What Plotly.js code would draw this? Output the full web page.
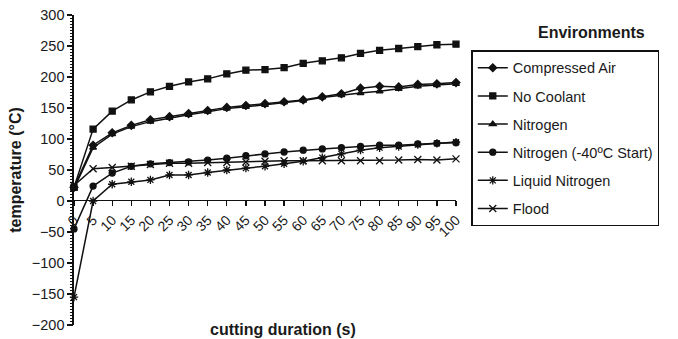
<!DOCTYPE html>
<html>
<head>
<meta charset="utf-8">
<script src="https://cdn.plot.ly/plotly-3.0.1.min.js"></script>
<style>html,body{margin:0;padding:0;background:#fff;}#chart{width:678px;height:339px;}</style>
</head>
<body>
<div id="chart"></div>
<script>
const duration = [0,5,10,15,20,25,30,35,40,45,50,55,60,65,70,75,80,85,90,95,100];
const xTickLabels = ["0","5","10","15","20","25","30","35","40","45","50","55","60","65","70","75","80","85","90","95","100"];
const seriesNames = ["Compressed Air","No Coolant","Nitrogen","Nitrogen (-40ºC Start)","Liquid Nitrogen","Flood"];
const compressedAir = [22, 90, 110, 122, 131, 136, 141, 146, 151, 154, 157, 160, 163, 168, 173, 182, 185, 184, 188, 189, 191];
const noCoolant = [22, 116, 145, 163, 176, 185, 192, 197, 205, 211, 212, 215, 222, 226, 231, 238, 243, 246, 249, 252, 253];
const nitrogen = [20, 86, 108, 120, 128, 134, 139, 144, 149, 152, 155, 159, 162, 167, 171, 174, 177, 181, 185, 187, 189];
const nitrogenMinus40 = [-45, 24, 45, 56, 60, 62, 63, 66, 69, 73, 76, 79, 82, 84, 86, 88, 90, 90, 92, 93, 94];
const liquidNitrogen = [-155, 0, 27, 31, 34, 42, 42, 46, 50, 53, 56, 60, 64, 70, 76, 82, 86, 88, 91, 93, 95];
const flood = [25, 52, 54, 56, 59, 61, 61, 62, 62, 63, 64, 65, 65, 65, 65, 65, 65, 66, 67, 66, 68];

const values = [compressedAir, noCoolant, nitrogen, nitrogenMinus40, liquidNitrogen, flood];
const symbols = ["diamond","square","triangle-up","circle","asterisk-open","x-thin-open"];
const sizes = [6,6,6,6,7,7];

const traces = values.map((v,i)=>({
  x: duration, y: v, name: seriesNames[i], type: 'scatter', mode: 'lines+markers',
  legendgroup: 'g'+i, cliponaxis: false,
  line: {color: '#111', width: 1.5},
  marker: {symbol: symbols[i], size: sizes[i], color: '#111', line: {color: '#111', width: 1.3}}
}));
// invisible carrier trace so the minor-tick axis is drawn
traces.push({x: duration, y: flood, yaxis: 'y2', type: 'scatter', mode: 'lines', opacity: 0, showlegend: false, hoverinfo: 'skip'});

const font = {family: '"Liberation Sans", Arial, sans-serif', color: '#1a1a1a', size: 14};
const layout = {
  width: 678, height: 339,
  margin: {l: 74, r: 222, t: 15, b: 14},
  paper_bgcolor: '#fff', plot_bgcolor: '#fff',
  font: font,
  showlegend: true,
  xaxis: {
    range: [0, 100], anchor: 'free', position: 0.4039,
    tickmode: 'array', tickvals: duration, ticktext: xTickLabels,
    tickangle: -45, ticks: 'outside', ticklen: 5, tickwidth: 1.3, tickcolor: '#111',
    showline: true, linecolor: '#111', linewidth: 1.6, showgrid: false, zeroline: false,
    tickfont: {size: 14}
  },
  yaxis: {
    range: [-200, 300], tickmode: 'linear', tick0: 0, dtick: 50, ticks: 'outside', ticklen: 5, tickwidth: 1.3, tickcolor: '#111',
    showline: true, linecolor: '#111', linewidth: 1.6, showgrid: false, zeroline: false,
    title: {text: 'temperature (°C)', font: {size: 16, weight: 'bold'}, standoff: 6},
    tickfont: {size: 14.5}
  },
  yaxis2: {
    overlaying: 'y', side: 'left', anchor: 'x', range: [-200, 300], tickmode: 'linear', tick0: 0, dtick: 5,
    ticks: 'outside', ticklen: 3.5, tickwidth: 1, tickcolor: '#111', showticklabels: false,
    showline: false, showgrid: false, zeroline: false
  },
  legend: {
    x: 1.04, xanchor: 'left', y: 0.886, yanchor: 'top',
    bordercolor: '#111', borderwidth: 1.5, bgcolor: '#fff',
    font: {size: 14.5}, tracegroupgap: 6.3, itemwidth: 30
  },
  annotations: [
    {text: 'Environments', xref: 'paper', yref: 'paper', x: 1.356, y: 0.943, xanchor: 'center', yanchor: 'middle', showarrow: false, font: {size: 16, weight: 'bold'}},
    {text: 'cutting duration (s)', xref: 'paper', yref: 'paper', x: 0.547, y: -0.016, xanchor: 'center', yanchor: 'middle', showarrow: false, font: {size: 16, weight: 'bold'}}
  ]
};
Plotly.newPlot('chart', traces, layout, {displayModeBar: false, staticPlot: true});
</script>
</body>
</html>
